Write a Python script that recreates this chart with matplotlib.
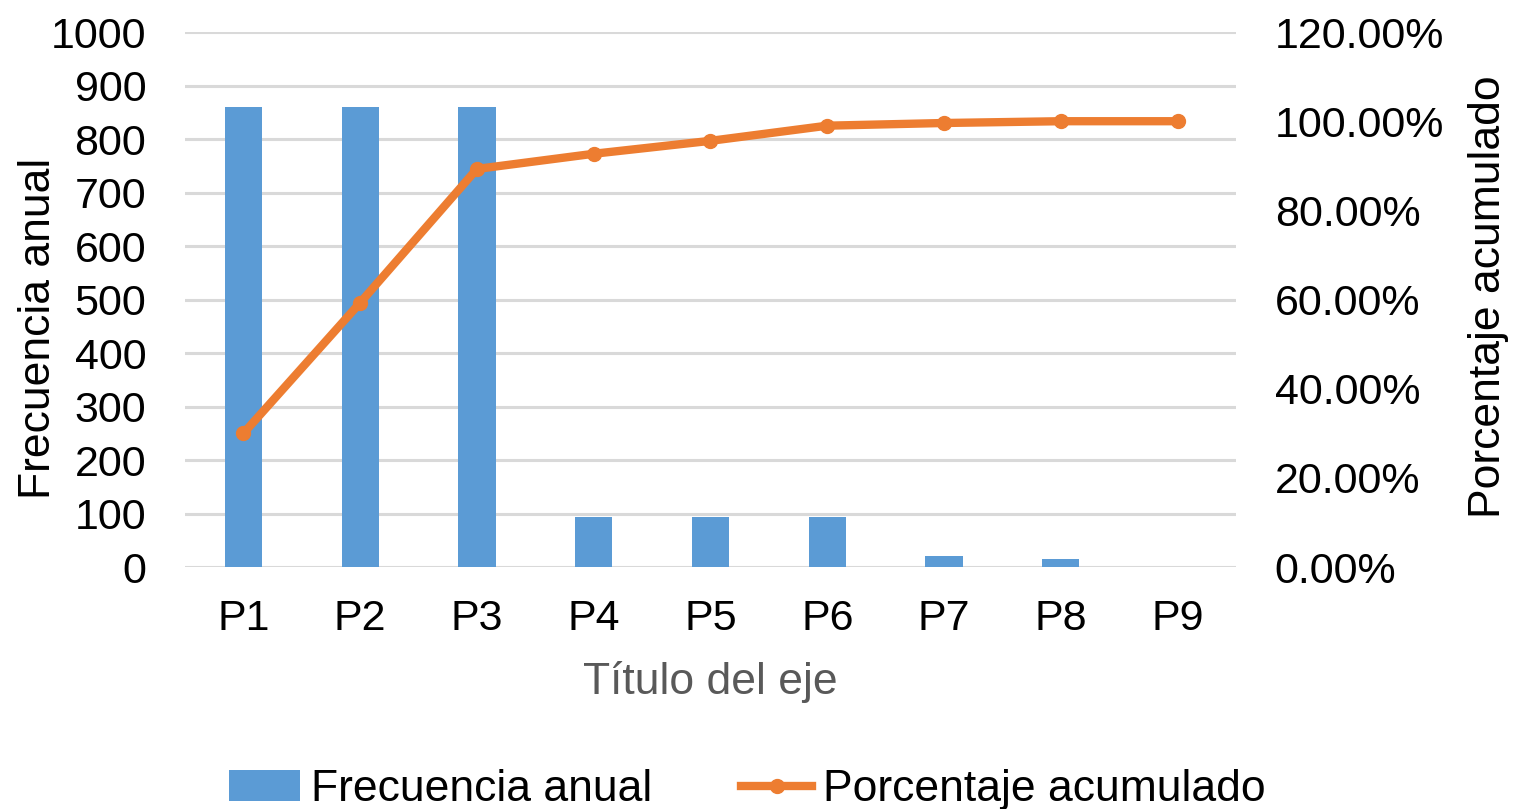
import matplotlib
matplotlib.use("Agg")
import matplotlib.pyplot as plt
from matplotlib.ticker import FuncFormatter

plt.rcParams['font.family'] = ['Liberation Sans', 'DejaVu Sans']

# data
categorias = ["P1", "P2", "P3", "P4", "P5", "P6", "P7", "P8", "P9"]
frecuencia = [860, 860, 860, 93, 93, 93, 20, 15, 0]
porcentaje = [30.0, 59.3, 89.3, 92.7, 95.6, 99.0, 99.6, 100.0, 100.0]

azul = "#5B9BD5"
naranja = "#ED7D31"
gris = "#D9D9D9"

fig = plt.figure(figsize=(15.18, 8.09), dpi=100)
ax = fig.add_axes([0.1219, 0.299, 0.6923, 0.6614])
ax2 = ax.twinx()

x = range(len(categorias))
ax.bar(x, frecuencia, width=0.32, color=azul, label="Frecuencia anual", zorder=2)
ax2.plot(x, porcentaje, color=naranja, lw=6, marker="o", ms=10,
         label="Porcentaje acumulado", zorder=3)

ax.set_xlim(-0.5, len(categorias) - 0.5)
ax.set_ylim(0, 1000)
ax.set_yticks(range(0, 1001, 100))
ax2.set_ylim(0, 120)
ax2.set_yticks(range(0, 121, 20))
ax2.yaxis.set_major_formatter(FuncFormatter(lambda v, p: f"{v:.2f}%"))

ax.set_xticks(list(x))
ax.set_xticklabels(categorias)
ax.grid(axis="y", color=gris, lw=2.2, zorder=0)
ax.set_axisbelow(True)

for a in (ax, ax2):
    for s in a.spines.values():
        s.set_visible(False)
    a.tick_params(length=0, labelsize=31, colors="#000000")
ax.tick_params(axis="y", pad=28)
ax.tick_params(axis="x", pad=23)
ax2.tick_params(axis="y", pad=28)

ax.set_ylabel("Frecuencia anual", fontsize=32, color="#000000")
ax.yaxis.set_label_coords(-0.12, 0.447)
ax2.set_ylabel("Porcentaje acumulado", fontsize=32, color="#000000")
ax2.yaxis.set_label_coords(1.221, 0.506)
ax.set_xlabel("Título del eje", fontsize=32, color="#595959", labelpad=16)

h1, l1 = ax.get_legend_handles_labels()
h2, l2 = ax2.get_legend_handles_labels()
fig.legend(h1 + h2, l1 + l2, loc="center", bbox_to_anchor=(0.4924, 0.024),
           ncol=2, frameon=False, fontsize=32, handlelength=1.6,
           handletextpad=0.25, columnspacing=2.0)

fig.savefig("out.png", dpi=100)
